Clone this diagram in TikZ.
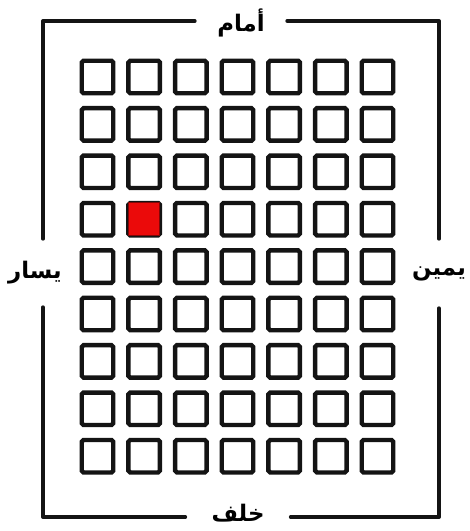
\documentclass[tikz,border=0pt]{standalone}
\usepackage{fontspec}
\newfontfamily\arabicfont[Script=Arabic]{DejaVu Sans}
\TeXXeTstate=1
\usetikzlibrary{positioning}
\definecolor{seatred}{RGB}{235,10,10}
\definecolor{seatedge}{RGB}{20,20,20}

\begin{document}
\begin{tikzpicture}[
  x=0.02cm,y=-0.02cm,
  seat/.style={draw=seatedge,line width=2.5pt,fill=white,rounded corners=1pt,inner sep=0pt,minimum width=6.3mm,minimum height=6.5mm},
  taken/.style={draw=seatred!55!black,line width=0.8pt,fill=seatred,inner sep=0pt,minimum width=6.2mm,minimum height=6.6mm},
  side/.style={font=\arabicfont\bfseries\fontsize{13}{15}\selectfont,inner sep=0pt},
  frame/.style={draw=seatedge,line width=2.3pt,line cap=round,line join=round}
]
\useasboundingbox (0,0) rectangle (470,531);

% frame corners
\coordinate (tl) at (43,21);
\coordinate (bl) at (43,517);

% GRID: 9 rows x 7 columns of seats
\foreach \r in {1,...,9}{
  \foreach \c in {1,...,7}{
    \node[seat] (sq-\r-\c) at ({97.5+46.67*(\c-1)}, {77+47.4*(\r-1)}) {};
  }
}
% the one marked seat
\node[taken] (mark) at (sq-4-2) {};

% LABELS on the four sides
\node[side,minimum width=1.84cm] (front) at (241,23)  {\beginR أمام\endR};
\node[side,minimum width=2.10cm] (back)  at (238,513) {\beginR خلف\endR};
\node[side,minimum height=1.36cm] (lft)  at (35,273)  {\beginR يسار\endR};
\node[side,minimum height=1.38cm] (rgt)  at (439,273.5) {\beginR يمين\endR};

% FRAME: broken at each label
\draw[frame] (front.west |- tl) -| (tl |- lft.north);
\draw[frame] (tl |- lft.south) |- (back.west |- bl);
\draw[frame] (back.east |- bl) -| (rgt.south);
\draw[frame] (rgt.north) |- (front.east |- tl);

\end{tikzpicture}
\end{document}
